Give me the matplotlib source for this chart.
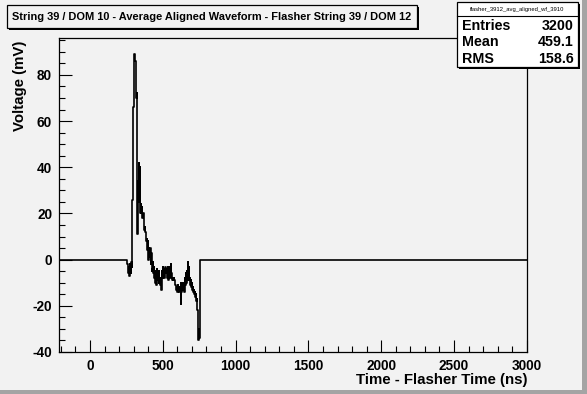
import matplotlib
matplotlib.use("Agg")
import matplotlib.pyplot as plt
from matplotlib.patches import Rectangle
from matplotlib.ticker import MultipleLocator
import numpy as np

plt.rcParams['font.family'] = ['Liberation Sans', 'DejaVu Sans']
plt.rcParams['font.weight'] = 'bold'
plt.rcParams['axes.unicode_minus'] = False

title = "String 39 / DOM 10 - Average Aligned Waveform - Flasher String 39 / DOM 12"
hist_name = "flasher_3912_avg_aligned_wf_3910"
stat_labels = ["Entries", "Mean", "RMS"]
stat_values = ["3200", "459.1", "158.6"]
xlabel = "Time - Flasher Time (ns)"
ylabel = "Voltage (mV)"

x_range = (-213, 3000)
y_range = (-40, 96)

# waveform samples (ns) with high / low readings inside each time slot
wave_t = [254, 261, 268, 275, 282, 288, 295, 302, 309, 316, 322, 329, 336, 343, 350,
          357, 364, 371, 377, 384, 391, 398, 405, 412, 419, 426, 432, 439, 446, 453,
          460, 467, 474, 480, 487, 494, 501, 508, 515, 522, 529, 535, 542, 549, 556,
          563, 570, 576, 583, 590, 597, 604, 611, 618, 625, 631, 638, 645, 652, 659,
          666, 673, 679, 686, 693, 700, 707, 714, 720, 727, 734, 741, 748]
wave_end = 752
wave_a = [-2, -6, -7, -4, -1, 26, 66, 83, 86, 82, 72, 11, 42, 40, 24,
          23, 20, 16, 14, 10, 9, 8, 5, 5, 3, 2, -1, -3, -6, -5,
          -4, -6, -5, -8, -9, -5, -3, -4, -3, -4, -5, -3, -4, -3, -2,
          -6, -8, -8, -10, -11, -12, -11, -12, -13, -10, -11, -10, -12, -8, -6,
          -5, -1, -3, -8, -9, -10, -12, -13, -14, -15, -17, -22, -30]
wave_b = [-5, -3, -2, -6, -3, 26, 66, 89, 80, 70, 11, 34, 25, 20, 20,
          18, 16, 13, 12, 8, 4, 0, 1, -2, -5, -4, -6, -8, -10, -11,
          -9, -10, -9, -11, -13, -8, -7, -8, -6, -7, -8, -9, -7, -8, -6,
          -9, -9, -9, -11, -13, -14, -13, -14, -19, -14, -13, -12, -14, -11, -10,
          -9, -7, -9, -11, -12, -13, -14, -15, -16, -18, -22, -35, -34]

bg = '#f2f2f2'
fig = plt.figure(figsize=(5.87, 3.94), dpi=100, facecolor=bg)

# canvas bevel (right / bottom darker edge)
fig.patches.append(Rectangle((0.9915, 0), 0.0085, 1, transform=fig.transFigure,
                             facecolor='#a4a4a4', edgecolor='none', zorder=0))
fig.patches.append(Rectangle((0, 0), 1, 0.011, transform=fig.transFigure,
                             facecolor='#a4a4a4', edgecolor='none', zorder=0))

ax = fig.add_axes([0.1005, 0.1066, 0.797, 0.797])
ax.set_facecolor(bg)

# build step curve
xs = [x_range[0]]
ys = [0]
for i, t in enumerate(wave_t):
    t_next = wave_t[i + 1] if i + 1 < len(wave_t) else wave_end
    mid = (t + t_next) / 2
    xs += [t, mid]
    ys += [wave_a[i], wave_b[i]]
xs += [wave_end, x_range[1]]
ys += [0, 0]
ax.step(xs, ys, where='post', color='black', lw=1.2)

ax.set_xlim(*x_range)
ax.set_ylim(*y_range)
ax.xaxis.set_major_locator(MultipleLocator(500))
ax.xaxis.set_minor_locator(MultipleLocator(100))
ax.yaxis.set_major_locator(MultipleLocator(20))
ax.yaxis.set_minor_locator(MultipleLocator(5))
ax.tick_params(which='major', direction='in', length=9, width=0.8,
               labelsize=9.8, top=False, right=False)
ax.tick_params(axis='x', which='major', pad=5)
ax.tick_params(axis='y', which='major', pad=5)
ax.tick_params(which='minor', direction='in', length=4.5, width=0.8,
               top=False, right=False)
for lab in ax.get_xticklabels() + ax.get_yticklabels():
    lab.set_fontweight('bold')
for s in ax.spines.values():
    s.set_linewidth(0.9)

fig.text(0.8978, 1 - 380 / 394, xlabel, ha='right', va='center', fontsize=10.8,
         fontweight='bold')
fig.text(0.034, 1 - 41 / 394, ylabel, ha='center', va='top', rotation=90, fontsize=10.8,
         fontweight='bold')

# title box with shadow
fig.patches.append(Rectangle((9 / 587, 1 - 30 / 394), 410 / 587, 23 / 394,
                             transform=fig.transFigure, facecolor='black',
                             edgecolor='none', zorder=3))
fig.patches.append(Rectangle((7 / 587, 1 - 28 / 394), 410 / 587, 23 / 394,
                             transform=fig.transFigure, facecolor=bg,
                             edgecolor='black', lw=0.9, zorder=4))
fig.text(212 / 587, 1 - 16.5 / 394, title, ha='center', va='center', fontsize=7.9,
         fontweight='bold', zorder=5)

# stats box with shadow
sx0, sx1, sy0, sy1 = 457, 578, 2, 67
fig.patches.append(Rectangle(((sx0 + 2) / 587, 1 - (sy1 + 2) / 394), (sx1 - sx0) / 587,
                             (sy1 - sy0) / 394, transform=fig.transFigure,
                             facecolor='black', edgecolor='none', zorder=3))
fig.patches.append(Rectangle((sx0 / 587, 1 - sy1 / 394), (sx1 - sx0) / 587,
                             (sy1 - sy0) / 394, transform=fig.transFigure,
                             facecolor='white', edgecolor='black', lw=0.9, zorder=4))
fig.lines.append(plt.Line2D([sx0 / 587, sx1 / 587], [1 - 16 / 394, 1 - 16 / 394],
                            transform=fig.transFigure, color='black', lw=0.8, zorder=5))
fig.text((sx0 + sx1) / 2 / 587, 1 - 9 / 394, hist_name, ha='center', va='center',
         fontsize=4.2, fontweight='normal', zorder=5)
rows_y = [25.5, 42.5, 59]
for lab, val, yy in zip(stat_labels, stat_values, rows_y):
    fig.text((sx0 + 5) / 587, 1 - yy / 394, lab, ha='left', va='center', fontsize=10.3,
             fontweight='bold', zorder=5)
    fig.text((sx1 - 4) / 587, 1 - yy / 394, val, ha='right', va='center', fontsize=10.3,
             fontweight='bold', zorder=5)

fig.savefig('out.png', dpi=100, facecolor=bg)
